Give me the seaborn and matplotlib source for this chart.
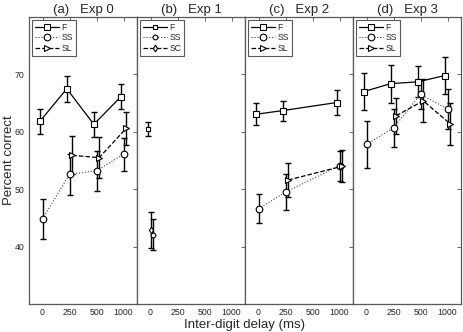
import matplotlib as mpl
mpl.use("Agg")
import matplotlib.pyplot as plt
import numpy as np
import pandas as pd
import seaborn as sns

delays = ["0", "250", "500", "1000"]
titles = ["(a)   Exp 0", "(b)   Exp 1", "(c)   Exp 2", "(d)   Exp 3"]
nan = np.nan

# Exp 0
exp0_f = [61.8, 67.5, 61.3, 66.1]
exp0_f_err = [2.2, 2.3, 2.2, 2.15]
exp0_ss = [44.8, 52.6, 53.2, 56.1]
exp0_ss_err = [3.45, 3.6, 3.5, 2.9]
exp0_sl = [nan, 55.9, 55.5, 60.6]
exp0_sl_err = [nan, 3.3, 3.6, 2.9]

# Exp 1 (only 0 ms delay)
exp1_f = [60.5, nan, nan, nan]
exp1_f_err = [1.2, nan, nan, nan]
exp1_ss = [42.1, nan, nan, nan]
exp1_ss_err = [2.7, nan, nan, nan]
exp1_sc = [42.9, nan, nan, nan]
exp1_sc_err = [3.1, nan, nan, nan]

# Exp 2 (no 500 ms)
exp2_f = [63.05, 63.7, nan, 65.1]
exp2_f_err = [1.95, 1.75, nan, 2.2]
exp2_ss = [46.6, 49.5, nan, 54.1]
exp2_ss_err = [2.5, 3.1, nan, 2.6]
exp2_sl = [nan, 51.6, nan, 54.0]
exp2_sl_err = [nan, 2.9, nan, 2.8]

# Exp 3
exp3_f = [67.0, 68.4, 68.7, 69.8]
exp3_f_err = [3.2, 3.3, 2.7, 3.2]
exp3_ss = [57.8, 60.7, 66.5, 64.0]
exp3_ss_err = [4.15, 3.3, 2.5, 3.5]
exp3_sl = [nan, 62.8, 65.4, 61.4]
exp3_sl_err = [nan, 3.1, 3.75, 3.7]

# name, values, errors, x offset, linestyle, marker
panels = [
    [("F", exp0_f, exp0_f_err, -0.1, "-", "s"),
     ("SS", exp0_ss, exp0_ss_err, 0.0, ":", "o"),
     ("SL", exp0_sl, exp0_sl_err, 0.1, "--", ">")],
    [("F", exp1_f, exp1_f_err, -0.1, "-", "s"),
     ("SS", exp1_ss, exp1_ss_err, 0.1, ":", "o"),
     ("SC", exp1_sc, exp1_sc_err, 0.0, "--", "d")],
    [("F", exp2_f, exp2_f_err, -0.1, "-", "s"),
     ("SS", exp2_ss, exp2_ss_err, 0.0, ":", "o"),
     ("SL", exp2_sl, exp2_sl_err, 0.1, "--", ">")],
    [("F", exp3_f, exp3_f_err, -0.1, "-", "s"),
     ("SS", exp3_ss, exp3_ss_err, 0.0, ":", "o"),
     ("SL", exp3_sl, exp3_sl_err, 0.1, "--", ">")],
]

sns.set_style("white")
plt.rcParams["font.family"] = ["Liberation Sans", "DejaVu Sans"]
plt.rcParams["legend.fancybox"] = False

fig = plt.figure(figsize=(4.63, 3.32), dpi=100)
left, width, bottom, height = 29 / 463, 108 / 463, 28 / 332, 287 / 332

for i, series in enumerate(panels):
    ax = fig.add_axes([left + i * width, bottom, width, height])
    msize = 3.4 if i == 1 else 4.8
    for name, vals, errs, off, ls, mk in series:
        df = pd.DataFrame({"pos": np.arange(len(delays)) + off,
                           "value": vals, "err": errs}).dropna()
        ax.errorbar(df["pos"], df["value"], yerr=df["err"], fmt="none",
                    ecolor="black", elinewidth=1.0, capsize=2.2,
                    capthick=1.0, zorder=1.5)
        sns.lineplot(data=df, x="pos", y="value", ax=ax,
                     color="0.25" if ls == ":" else "black",
                     linestyle=ls, linewidth=0.9 if ls != ":" else 0.8,
                     marker=mk, markersize=msize, markerfacecolor="white",
                     markeredgecolor="black", markeredgewidth=0.8,
                     label=name, zorder=3)
    ax.set_xlim(-0.5, 3.5)
    ax.set_ylim(30, 80)
    ax.set_xticks(range(len(delays)))
    ax.set_xticklabels(delays)
    ax.set_yticks([40, 50, 60, 70])
    ax.set_xlabel("")
    ax.set_ylabel("")
    ax.tick_params(direction="in", top=True, right=True, length=3,
                   width=0.6, labelsize=6.3, color="0.3")
    ax.tick_params(axis="x", pad=3)
    ax.tick_params(axis="y", pad=3.5)
    if i > 0:
        ax.tick_params(labelleft=False)
    for sp in ax.spines.values():
        sp.set_color("0.35")
        sp.set_linewidth(0.9)
    ax.set_title(titles[i], fontsize=9.5, pad=3)
    leg = ax.legend(loc="upper left", fontsize=6.2, handlelength=2.8,
                    handletextpad=0.3, borderpad=0.35, labelspacing=0.2,
                    borderaxespad=0.3, framealpha=1)
    leg.get_frame().set_edgecolor("0.35")
    leg.get_frame().set_linewidth(0.8)
    if i == 0:
        ax.set_ylabel("Percent correct", fontsize=9.5)
        ax.yaxis.set_label_coords(-0.125, 0.5)

fig.text(left + 2 * width, 1 - 325 / 332, "Inter-digit delay (ms)",
         ha="center", va="center", fontsize=9.5)
fig.savefig("out.png", dpi=100)
